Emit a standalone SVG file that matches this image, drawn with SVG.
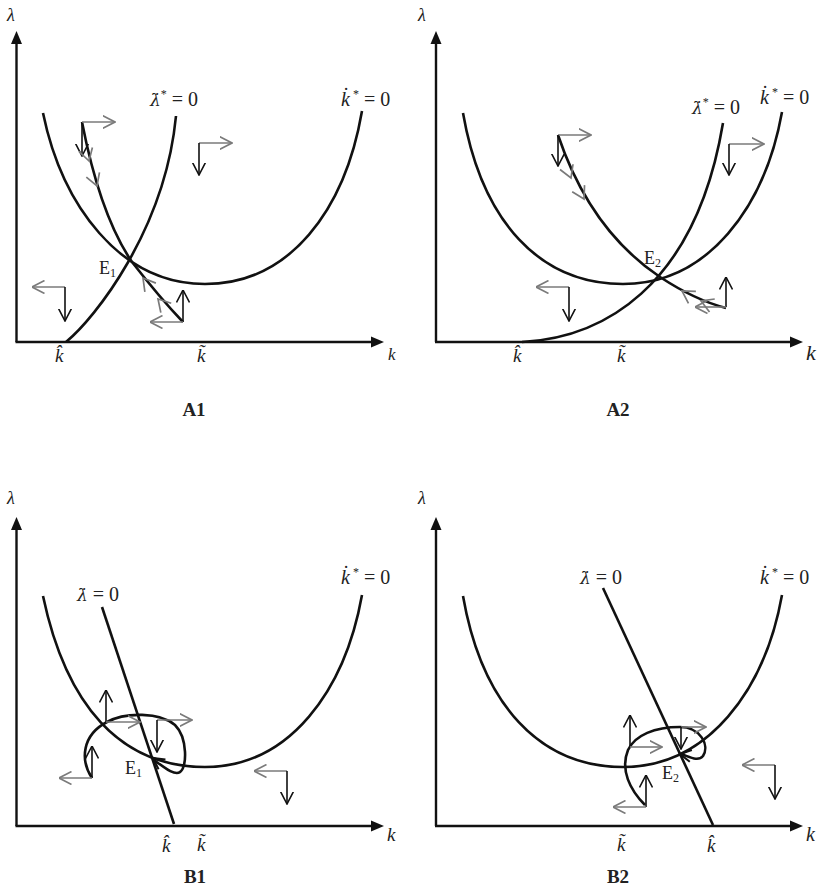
<svg xmlns="http://www.w3.org/2000/svg" xmlns:xlink="http://www.w3.org/1999/xlink" width="820" height="889" viewBox="0 0 820 889">
<style>
.ax{stroke:#111;stroke-width:2.4;fill:none}
.cv{stroke:#111;stroke-width:2.6;fill:none}
.pb{stroke:#111;stroke-width:1.6;fill:none;marker-end:url(#hb)}
.pg{stroke:#7a7a7a;stroke-width:1.6;fill:none;marker-end:url(#hg)}
.t{font-family:"Liberation Serif","Times New Roman",serif;fill:#222}
.it{font-style:italic}
.lam{font-family:"DejaVu Serif",serif;font-style:italic;font-size:17px}
.eq{font-size:20px}
.lb{font-size:19px;font-weight:bold;text-anchor:middle}
.sm{stroke:#7a7a7a;stroke-width:1.7;fill:none}
</style>
<defs>
<marker id="hb" viewBox="0 0 13 14" refX="12.5" refY="7" markerWidth="13" markerHeight="14" orient="auto" markerUnits="userSpaceOnUse"><path d="M0,0.5 L12.5,7 L0,13.5" fill="none" stroke="#111" stroke-width="1.6"/></marker>
<marker id="hg" viewBox="0 0 13 14" refX="12.5" refY="7" markerWidth="13" markerHeight="14" orient="auto" markerUnits="userSpaceOnUse"><path d="M0,0.5 L12.5,7 L0,13.5" fill="none" stroke="#7a7a7a" stroke-width="1.6"/></marker>
<path id="chev" d="M-12,-7 L0,0 L-12,7"/>
<path id="chevb" d="M-11,-6 L0,0 L-11,6"/>
<path id="yhead" d="M-5.5,13 L0,0 L5.5,13 Z" fill="#111"/>
<path id="xhead" d="M-13,-5.5 L0,0 L-13,5.5 Z" fill="#111"/>
</defs>

<!-- Panel A1 -->
<g id="panelA1">
  <g id="A1-axes">
    <line class="ax" x1="16.5" y1="342" x2="16.5" y2="42"/>
    <use xlink:href="#yhead" x="16.5" y="31"/>
    <line class="ax" x1="15.5" y1="342" x2="372" y2="342"/>
    <use xlink:href="#xhead" x="384" y="342"/>
    <text class="t it" x="7" y="21" font-size="18">λ</text>
    <text class="t it" x="388" y="360" font-size="17">k</text>
    <text class="t it" x="55" y="362" font-size="19">k̂</text>
    <text class="t it" x="197" y="362" font-size="19">k̃</text>
  </g>
  <g id="A1-curves">
    <path class="cv" d="M43,113 C62,205 120,284 205,284 C290,284 345,210 362,111"/>
    <path class="cv" d="M66,342 C95,318 165,230 176,116"/>
    <path class="cv" d="M82,122 Q100,215 132,262 Q160,298 183,322"/>
  </g>
  <g id="A1-arrows">
    <line class="pb" x1="82" y1="122" x2="82" y2="156"/>
    <line class="pg" x1="82" y1="122" x2="115" y2="122"/>
    <line class="pg" x1="199" y1="143" x2="232" y2="143"/>
    <line class="pb" x1="199" y1="143" x2="199" y2="175"/>
    <line class="pg" x1="65" y1="287" x2="32" y2="287"/>
    <line class="pb" x1="65" y1="287" x2="65" y2="321"/>
    <line class="pb" x1="183" y1="322" x2="183" y2="290"/>
    <line class="pg" x1="183" y1="322" x2="150" y2="322"/>
    <use class="sm" xlink:href="#chev" transform="translate(89,161) rotate(74)"/>
    <use class="sm" xlink:href="#chev" transform="translate(97,186) rotate(70)"/>
    <use class="sm" xlink:href="#chev" transform="translate(143,278) rotate(-128)"/>
    <use class="sm" xlink:href="#chev" transform="translate(158,299) rotate(-132)"/>
  </g>
  <g id="A1-labels">
    <text class="t eq" x="150" y="106"><tspan class="lam">λ̇</tspan><tspan font-size="12" dy="-8">*</tspan><tspan dy="8"> = 0</tspan></text>
    <text class="t eq" x="341" y="106"><tspan class="it">k̇</tspan><tspan font-size="12" dy="-8"> *</tspan><tspan dy="8"> = 0</tspan></text>
    <text class="t" x="99" y="274" font-size="18">E<tspan font-size="12" dy="3">1</tspan></text>
    <text class="t lb" x="194" y="416">A1</text>
  </g>
</g>

<!-- Panel A2 -->
<g id="panelA2">
  <g id="A2-axes">
    <line class="ax" x1="436" y1="342" x2="436" y2="42"/>
    <use xlink:href="#yhead" x="436" y="31"/>
    <line class="ax" x1="435" y1="342" x2="791" y2="342"/>
    <use xlink:href="#xhead" x="803" y="342"/>
    <text class="t it" x="418" y="21" font-size="18">λ</text>
    <text class="t it" x="806" y="360" font-size="22">k</text>
    <text class="t it" x="513" y="362" font-size="19">k̂</text>
    <text class="t it" x="617" y="362" font-size="19">k̃</text>
  </g>
  <g id="A2-curves">
    <path class="cv" d="M463,113 C482,222 540,284 623,284 C708,284 765,207 782,112"/>
    <path class="cv" d="M522,342 C600,338 695,290 723,123"/>
    <path class="cv" d="M558,135 Q590,230 660,277 Q695,300 726,308"/>
  </g>
  <g id="A2-arrows">
    <line class="pg" x1="558" y1="135" x2="591" y2="135"/>
    <line class="pb" x1="558" y1="135" x2="558" y2="166"/>
    <line class="pg" x1="729" y1="144" x2="764" y2="144"/>
    <line class="pb" x1="729" y1="144" x2="729" y2="175"/>
    <line class="pg" x1="569" y1="287" x2="536" y2="287"/>
    <line class="pb" x1="569" y1="287" x2="569" y2="321"/>
    <line class="pb" x1="726" y1="307" x2="726" y2="277"/>
    <line class="pg" x1="726" y1="307" x2="695" y2="307"/>
    <use class="sm" xlink:href="#chev" transform="translate(571,178) rotate(68)"/>
    <use class="sm" xlink:href="#chev" transform="translate(584,199) rotate(62)"/>
    <use class="sm" xlink:href="#chev" transform="translate(682,291) rotate(-148)"/>
    <use class="sm" xlink:href="#chev" transform="translate(701,301) rotate(-158)"/>
  </g>
  <g id="A2-labels">
    <text class="t eq" x="692" y="114"><tspan class="lam">λ̇</tspan><tspan font-size="12" dy="-8">*</tspan><tspan dy="8"> = 0</tspan></text>
    <text class="t eq" x="760" y="104"><tspan class="it">k̇</tspan><tspan font-size="12" dy="-8"> *</tspan><tspan dy="8"> = 0</tspan></text>
    <text class="t" x="644" y="264" font-size="18">E<tspan font-size="12" dy="3">2</tspan></text>
    <text class="t lb" x="618" y="416">A2</text>
  </g>
</g>

<!-- Panel B1 -->
<g id="panelB1">
  <g id="B1-axes">
    <line class="ax" x1="16.5" y1="826" x2="16.5" y2="528"/>
    <use xlink:href="#yhead" x="16.5" y="517"/>
    <line class="ax" x1="15.5" y1="826" x2="372" y2="826"/>
    <use xlink:href="#xhead" x="384" y="826"/>
    <text class="t it" x="7" y="504" font-size="18">λ</text>
    <text class="t it" x="387" y="841" font-size="19">k</text>
    <text class="t it" x="162" y="852" font-size="19">k̂</text>
    <text class="t it" x="197" y="851" font-size="19">k̃</text>
  </g>
  <g id="B1-curves">
    <path class="cv" d="M43,596 C66,705 120,767 205,767 C290,767 345,690 362,595"/>
    <line class="cv" x1="102" y1="607" x2="174" y2="824"/>
    <path class="cv" d="M92,778 C80,760 82,735 107,722 C125,712 160,712 175,725 C188,738 187,768 180,772 C175,776 165,768 154,760"/>
    <use class="cv" style="stroke-width:2" xlink:href="#chevb" transform="translate(153,758) rotate(-145)"/>
  </g>
  <g id="B1-arrows">
    <line class="pb" x1="106" y1="722" x2="106" y2="690"/>
    <line class="pg" x1="106" y1="722" x2="140" y2="722"/>
    <line class="pg" x1="157" y1="720" x2="192" y2="720"/>
    <line class="pb" x1="157" y1="720" x2="157" y2="752"/>
    <line class="pb" x1="92" y1="778" x2="92" y2="746"/>
    <line class="pg" x1="92" y1="778" x2="59" y2="778"/>
    <line class="pg" x1="287" y1="771" x2="254" y2="771"/>
    <line class="pb" x1="287" y1="771" x2="287" y2="804"/>
  </g>
  <g id="B1-labels">
    <text class="t eq" x="77" y="601"><tspan class="lam">λ̇</tspan><tspan> = 0</tspan></text>
    <text class="t eq" x="341" y="584"><tspan class="it">k̇</tspan><tspan font-size="12" dy="-8"> *</tspan><tspan dy="8"> = 0</tspan></text>
    <text class="t" x="125" y="774" font-size="18">E<tspan font-size="12" dy="3">1</tspan></text>
    <text class="t lb" x="195" y="883">B1</text>
  </g>
</g>

<!-- Panel B2 -->
<g id="panelB2">
  <g id="B2-axes">
    <line class="ax" x1="436" y1="826" x2="436" y2="528"/>
    <use xlink:href="#yhead" x="436" y="517"/>
    <line class="ax" x1="435" y1="826" x2="791" y2="826"/>
    <use xlink:href="#xhead" x="803" y="826"/>
    <text class="t it" x="418" y="504" font-size="18">λ</text>
    <text class="t it" x="806" y="841" font-size="20">k</text>
    <text class="t it" x="617" y="851" font-size="19">k̃</text>
    <text class="t it" x="707" y="852" font-size="19">k̂</text>
  </g>
  <g id="B2-curves">
    <path class="cv" d="M463,596 C482,705 540,767 623,767 C708,767 765,690 782,595"/>
    <line class="cv" x1="603" y1="588" x2="713" y2="825"/>
    <path class="cv" d="M645,805 C630,790 620,770 628,750 C635,735 655,727 680,727 C700,727 710,745 703,756 C698,762 690,757 681,754"/>
    <use class="cv" style="stroke-width:2" xlink:href="#chevb" transform="translate(680,754) rotate(-170)"/>
  </g>
  <g id="B2-arrows">
    <line class="pb" x1="630" y1="747" x2="630" y2="715"/>
    <line class="pg" x1="630" y1="747" x2="662" y2="747"/>
    <line class="pg" x1="681" y1="727" x2="706" y2="727"/>
    <line class="pb" x1="681" y1="727" x2="681" y2="749"/>
    <line class="pb" x1="646" y1="807" x2="646" y2="775"/>
    <line class="pg" x1="646" y1="807" x2="613" y2="807"/>
    <line class="pg" x1="775" y1="765" x2="742" y2="765"/>
    <line class="pb" x1="775" y1="765" x2="775" y2="799"/>
  </g>
  <g id="B2-labels">
    <text class="t eq" x="580" y="584"><tspan class="lam">λ̇</tspan><tspan> = 0</tspan></text>
    <text class="t eq" x="760" y="584"><tspan class="it">k̇</tspan><tspan font-size="12" dy="-8"> *</tspan><tspan dy="8"> = 0</tspan></text>
    <text class="t" x="662" y="779" font-size="18">E<tspan font-size="12" dy="3">2</tspan></text>
    <text class="t lb" x="618" y="883">B2</text>
  </g>
</g>
</svg>
